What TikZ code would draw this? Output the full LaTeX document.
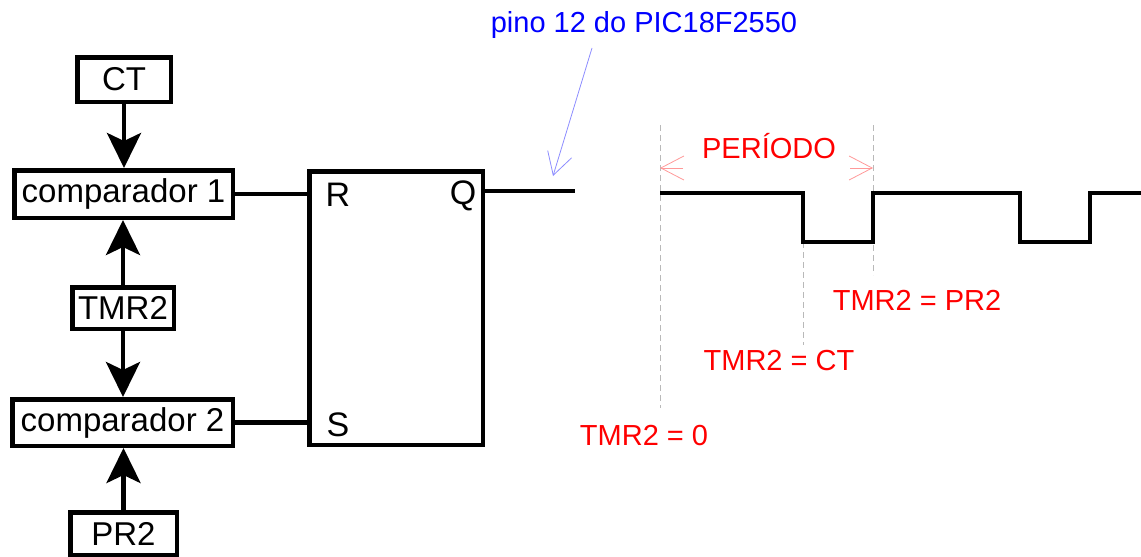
\documentclass[tikz,border=0pt]{standalone}
\usepackage{fontspec}
\setmainfont{Liberation Sans}
\usetikzlibrary{arrows.meta,positioning,calc}
\tikzstyle{caixa} = [draw, line width=4.5pt, inner sep=0pt, font=\fontsize{33}{36}\selectfont]
\tikzstyle{seta} = [line width=4.5pt, -{Stealth[length=35pt,width=34pt,inset=8pt]}]
\tikzstyle{fio} = [line width=4.5pt]
\tikzstyle{tracejado} = [gray!55, line width=0.8pt, dash pattern=on 6pt off 4pt]
\tikzstyle{rotulo} = [red, anchor=base, inner sep=0pt, font=\fontsize{29}{32}\selectfont]
\tikzstyle{pontafina} = [line width=0.8pt, -{Straight Barb[length=23pt,width=24pt]}]

\begin{document}
\begin{tikzpicture}[x=1pt,y=-1pt]
\useasboundingbox (0,0) rectangle (1141,557);
\node[caixa, minimum width=93.5, minimum height=44.5] (ct) at (124,79.5) {CT};
\node[caixa, minimum width=218.5, minimum height=47.5] (c1) at (123.5,194) {comparador 1};
\node[caixa, minimum width=101.5, minimum height=41.5] (tmr) at (123,308) {TMR2};
\node[caixa, minimum width=220.5, minimum height=46.5] (c2) at (122.5,422.5) {comparador 2};
\node[caixa, minimum width=106.5, minimum height=42.5] (pr) at (123.5,533.5) {PR2};
\node[caixa, minimum width=173.5, minimum height=273.5] (ff) at (396,308) {};
\node[font=\fontsize{34}{36}\selectfont, inner sep=0pt] (lr) at (338,194.5) {R};
\node[font=\fontsize{34}{36}\selectfont, inner sep=0pt] (lq) at (463,196) {Q};
\node[font=\fontsize{34}{36}\selectfont, inner sep=0pt] (ls) at (338,425) {S};
\draw[seta] (ct.south) -- (ct.south |- c1.north);
\draw[seta] (tmr.north) -- (tmr.north |- c1.south);
\draw[seta] (tmr.south) -- (tmr.south |- c2.north);
\draw[seta] (pr.north) -- (pr.north |- c2.south);
\draw[fio] (c1.east) -- (c1.east -| ff.west);
\draw[fio] (c2.east) -- (c2.east -| ff.west);
\coordinate (saida) at (575,191);
\draw[fio] (saida -| ff.east) -- (saida);
\node[blue, anchor=base, inner sep=0pt, font=\fontsize{29}{32}\selectfont] (pino) at (644,32) {pino 12 do PIC18F2550};
\coordinate (pa) at (592,48);
\coordinate (pb) at (553,176);
\draw[blue!45, line width=0.8pt, -{Straight Barb[length=22pt,width=25pt]}] (pa) -- (pb);
\draw[tracejado] (660,125) -- (660,408);
\draw[tracejado] (803,242) -- (803,345);
\draw[tracejado] (873,125) -- (873,275);
\draw[fio] (660,193) -- (803,193) -- (803,242) -- (873,242) -- (873,193) -- (1020,193) -- (1020,242) -- (1090,242) -- (1090,193) -- (1141,193);
\node[rotulo] (per) at (769,158) {PERÍODO};
\coordinate (pe1) at (683,168);
\coordinate (pe2) at (850,168);
\draw[pontafina, red!40] (pe1) -- ++(-23,0);
\draw[pontafina, red!40] (pe2) -- ++(23,0);
\node[rotulo] (tz) at (644,445) {TMR2 = 0};
\node[rotulo] (tc) at (779,370) {TMR2 = CT};
\node[rotulo] (tp) at (917,310) {TMR2 = PR2};
\end{tikzpicture}
\end{document}
